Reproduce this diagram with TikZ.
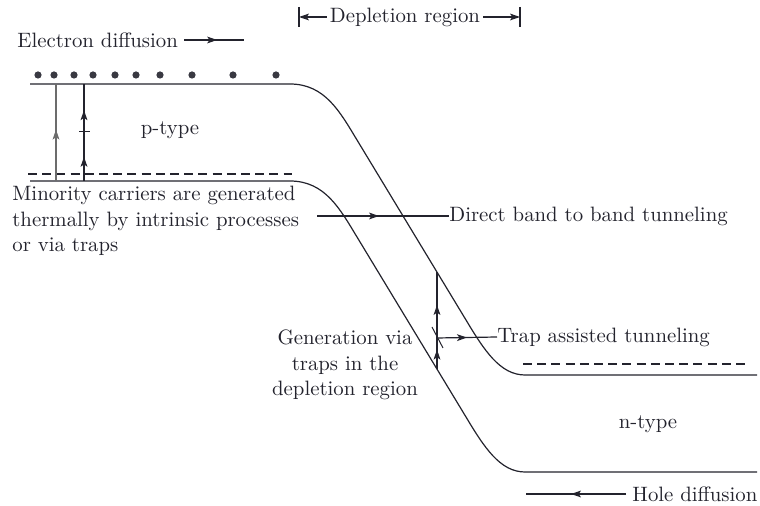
\documentclass[tikz,border=0pt]{standalone}
\usepackage{tikz}
\usetikzlibrary{decorations.markings,arrows.meta}
\definecolor{ink}{RGB}{35,35,45}
\tikzset{
  band/.style={line width=0.6pt,ink},
  fermi/.style={line width=0.6pt,ink,dash pattern=on 4.5pt off 2.6pt},
  midarr/.style={postaction={decorate,decoration={markings,mark=at position #1 with {\arrow{>}}}}},
  lbl/.style={inner sep=0pt,text=ink,font=\fontsize{10.4}{12.6}\selectfont}
}

\begin{document}
\begin{tikzpicture}[x=0.5pt,y=-0.5pt,>={Stealth[length=5pt,width=3.4pt,inset=1.2pt]}]
  \useasboundingbox (0,0) rectangle (760,506);

  % band edges
  \draw[band] (30,84) -- (290,84) .. controls (325,84) and (340,112) .. (357,140)
    -- (466,320) .. controls (484,350) and (500,375) .. (525,375) -- (757,375);
  \draw[band] (30,181) -- (290,181) .. controls (325,181) and (340,209) .. (357,237)
    -- (466,417) .. controls (484,447) and (500,472) .. (525,472) -- (757,472);
  \draw[fermi] (28,174) -- (292,174);
  \draw[fermi] (523,364) -- (750,364);

  % electrons
  \foreach \x in {38,54,74,93,115,136,160,192,233,276}
    \fill[ink!90] (\x,75) circle (1.8pt);

  % generation on the p side
  \coordinate (g1b) at (56,181);  \coordinate (g1t) at (56,84);
  \coordinate (g2b) at (84,181);  \coordinate (g2t) at (84,84);
  \draw[line width=0.6pt,gray!85!black,midarr=0.53] (g1b) -- (g1t);
  \draw[line width=0.6pt,ink,midarr=0.25,midarr=0.73] (g2b) -- (g2t);
  \draw[line width=0.5pt,ink] (79,132) -- (90,132);

  % generation in the depletion region
  \coordinate (tb) at (437,369);  \coordinate (tt) at (437,272);
  \coordinate (tm) at (437,338);
  \draw[line width=0.6pt,ink,midarr=0.2,midarr=0.66] (tb) -- (tt);
  \draw[line width=0.5pt,ink] (432,327) -- (443,348);

  \node[lbl] (ptype) at (170,130) {p-type};
  \node[lbl] (ntype) at (648,424) {n-type};

  \node[lbl,anchor=west] (ediff) at (17,40) {Electron diffusion};
  \coordinate (ediffend) at (244,40);
  \draw[line width=0.6pt,ink,midarr=0.55] ([xshift=3pt]ediff.east) -- (ediffend);

  \node[lbl] (depl) at (405,17) {Depletion region};
  \coordinate (dl) at (299,17);  \coordinate (dr) at (520,17);
  \draw[line width=0.6pt,ink,->] ([xshift=-1.5pt]depl.west) -- (dl);
  \draw[line width=0.6pt,ink,->] ([xshift=1.5pt]depl.east) -- (dr);
  \draw[line width=0.6pt,ink] (299,7) -- (299,27);
  \draw[line width=0.6pt,ink] (520,7) -- (520,27);

  \node[lbl,anchor=north west,align=left] (minor) at (12,186)
    {Minority carriers are generated\\thermally by intrinsic processes\\or via traps};

  \node[lbl,anchor=west] (direct) at (449,216) {Direct band to band tunneling};
  \coordinate (dstart) at (317,216);
  \draw[line width=0.6pt,ink,midarr=0.47] (dstart) -- (direct.west);

  \node[lbl,anchor=west] (trap) at (497,337) {Trap assisted tunneling};
  \draw[line width=0.6pt,ink,midarr=0.5] (tm) -- (trap.west);

  \node[lbl,align=center] (gen) at (345,365)
    {Generation via\\traps in the\\depletion region};

  \node[lbl,anchor=west] (hdiff) at (632,494) {Hole diffusion};
  \coordinate (hend) at (526,494);
  \draw[line width=0.6pt,ink,midarr=0.55] ([xshift=-3pt]hdiff.west) -- (hend);
\end{tikzpicture}
\end{document}
